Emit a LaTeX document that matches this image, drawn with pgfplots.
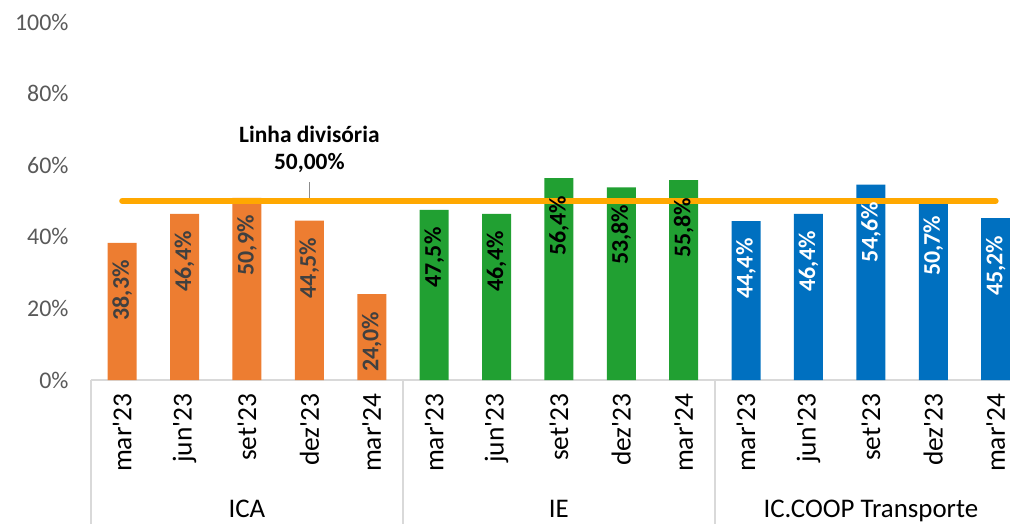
\documentclass[border=0pt]{standalone}
\usepackage{fontspec}
\setmainfont{Carlito}
\usepackage{pgfplots}
\pgfplotsset{compat=1.18}
\definecolor{orb}{HTML}{ED7D31}
\definecolor{grb}{HTML}{21A032}
\definecolor{blb}{HTML}{0070C0}
\definecolor{linec}{HTML}{FFA800}
\definecolor{tickc}{HTML}{595959}
\definecolor{axg}{HTML}{D9D9D9}
\begin{document}
\begin{tikzpicture}
\begin{axis}[
  scale only axis, width=919bp, height=358bp,
  xmin=-0.5, xmax=14.23, ymin=0, ymax=100,
  clip=false,
  /pgf/number format/assume math mode=true,
  axis x line*=bottom, axis y line*=left,
  y axis line style={draw=none},
  x axis line style={axg, line width=1.3pt},
  xtick style={draw=none}, ytick style={draw=none},
  ytick={0,20,...,100},
  yticklabel={\pgfmathprintnumber{\tick}\%},
  yticklabel style={font=\fontsize{24}{28}\selectfont, text=tickc, xshift=-19bp},
  xtick={0,...,14},
  xticklabels={mar\textquotesingle23,jun\textquotesingle23,set\textquotesingle23,dez\textquotesingle23,mar\textquotesingle24,
               mar\textquotesingle23,jun\textquotesingle23,set\textquotesingle23,dez\textquotesingle23,mar\textquotesingle24,
               mar\textquotesingle23,jun\textquotesingle23,set\textquotesingle23,dez\textquotesingle23,mar\textquotesingle24},
  xticklabel style={font=\fontsize{27.5}{31}\selectfont, text=black, yshift=-10bp, rotate=90, anchor=east},
  bar width=29bp,
  point meta=explicit symbolic,
  nodes near coords={\pgfplotspointmeta},
]
\addplot[ybar, bar shift=0pt, fill=orb, draw=none,
  every node near coord/.style={yshift=-14bp, rotate=90, anchor=east, font=\bfseries\fontsize{24}{28}\selectfont, text=black!75}]
  coordinates {(0,38.3)[38,3\%] (1,46.4)[46,4\%] (2,50.9)[50,9\%] (3,44.5)[44,5\%] (4,24.0)[24,0\%]};
\addplot[ybar, bar shift=0pt, fill=grb, draw=none,
  every node near coord/.style={yshift=-14bp, rotate=90, anchor=east, font=\bfseries\fontsize{24}{28}\selectfont, text=black}]
  coordinates {(5,47.5)[47,5\%] (6,46.4)[46,4\%] (7,56.4)[56,4\%] (8,53.8)[53,8\%] (9,55.8)[55,8\%]};
\addplot[ybar, bar shift=0pt, fill=blb, draw=none,
  every node near coord/.style={yshift=-14bp, rotate=90, anchor=east, font=\bfseries\fontsize{24}{28}\selectfont, text=white}]
  coordinates {(10,44.4)[44,4\%] (11,46.4)[46,4\%] (12,54.6)[54,6\%] (13,50.7)[50,7\%] (14,45.2)[45,2\%]};
\addplot[linec, line width=6bp, line cap=round, nodes near coords={}] coordinates {(0,50) (14,50)};
\draw[black!45, line width=1pt] (axis cs:3,50.8) -- (axis cs:3,55.3);
\node[font=\bfseries\fontsize{23.5}{27}\selectfont, align=center, text=black] at (axis cs:3,64.3) {Linha divisória\\50,00\%};
\draw[axg, line width=1.3pt] (axis cs:-0.5,0) -- (axis cs:-0.5,-42);
\draw[axg, line width=1.3pt] (axis cs:4.5,0) -- (axis cs:4.5,-42);
\draw[axg, line width=1.3pt] (axis cs:9.5,0) -- (axis cs:9.5,-42);
\node[font=\fontsize{27}{31}\selectfont, anchor=base, inner sep=0pt] at (axis cs:2,-38.5) {ICA};
\node[font=\fontsize{27}{31}\selectfont, anchor=base, inner sep=0pt] at (axis cs:7,-38.5) {IE};
\node[font=\fontsize{27}{31}\selectfont, anchor=base, inner sep=0pt] at (axis cs:12,-38.5) {IC.COOP Transporte};
\end{axis}
\pgfresetboundingbox
\path[use as bounding box] ([xshift=-91bp,yshift=-144bp]current axis.south west) rectangle ([yshift=22bp]current axis.north east);
\end{tikzpicture}
\end{document}
